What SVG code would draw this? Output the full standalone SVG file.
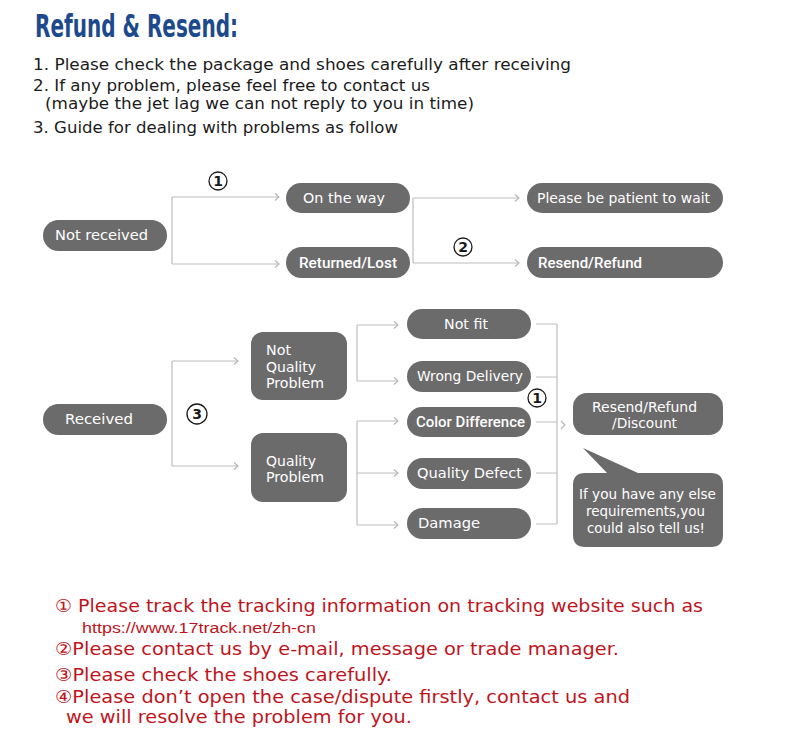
<svg xmlns="http://www.w3.org/2000/svg" width="800" height="734" viewBox="0 0 800 734">
<defs>
<marker id="chev" markerUnits="userSpaceOnUse" markerWidth="10" markerHeight="10" refX="6" refY="5" orient="auto">
<path d="M2,1.5 L6,5 L2,8.5" fill="none" stroke="#b3b3b3" stroke-width="1.1"/>
</marker>
<style>
.bg{fill:#ffffff}
.title{font-family:"Liberation Sans Narrow","DejaVu Sans Condensed","DejaVu Sans",sans-serif;font-weight:bold;font-size:32px;fill:#1d4a8c}
.body{font-family:"DejaVu Sans","Noto Sans",sans-serif;font-size:16.5px;fill:#1b1b1b}
.box{fill:#6c6b6c}
.nt{font-family:"DejaVu Sans","Noto Sans",sans-serif;font-size:14px;fill:#ffffff}
.nb{font-family:Roboto,"Liberation Sans",sans-serif;font-weight:500;font-size:15px;fill:#ffffff}
.ln{fill:none;stroke:#bdbdbd;stroke-width:1.2}
.arr{fill:none;stroke:#bdbdbd;stroke-width:1.2;marker-end:url(#chev)}
.num{fill:none;stroke:#1a1a1a;stroke-width:1.3}
.numt{font-family:"DejaVu Sans",sans-serif;font-size:14px;font-weight:bold;fill:#1a1a1a;text-anchor:middle}
.foot{font-family:"DejaVu Sans","Noto Sans","Noto Sans CJK SC",sans-serif;font-size:18px;fill:#c0141c}
.url{font-family:"Liberation Sans",Arial,sans-serif;font-size:15.5px;fill:#c0141c}
</style>
</defs>
<rect class="bg" x="0" y="0" width="800" height="734"/>

<g id="header">
<text class="title" x="35" y="37" textLength="203" lengthAdjust="spacingAndGlyphs">Refund &amp; Resend:</text>
<text class="body" x="33" y="70" textLength="538" lengthAdjust="spacingAndGlyphs">1. Please check the package and shoes carefully after receiving</text>
<text class="body" x="33" y="91" textLength="397" lengthAdjust="spacingAndGlyphs">2. If any problem, please feel free to contact us</text>
<text class="body" x="45" y="109" style="font-size:15.5px" textLength="429" lengthAdjust="spacingAndGlyphs">(maybe the jet lag we can not reply to you in time)</text>
<text class="body" x="33" y="133" textLength="365" lengthAdjust="spacingAndGlyphs">3. Guide for dealing with problems as follow</text>
</g>

<g id="connectors">
<path class="ln" d="M172,197 V264"/>
<path class="arr" d="M172,197 H279"/>
<path class="arr" d="M172,264 H279"/>
<path class="ln" d="M413,198 V263"/>
<path class="arr" d="M413,198 H519"/>
<path class="arr" d="M413,263 H519"/>
<path class="ln" d="M172,361 V466"/>
<path class="arr" d="M172,361 H238"/>
<path class="arr" d="M172,466 H238"/>
<path class="ln" d="M357,325 V381"/>
<path class="arr" d="M357,325 H398"/>
<path class="arr" d="M357,381 H398"/>
<path class="ln" d="M357,421 V525"/>
<path class="arr" d="M357,421 H398"/>
<path class="arr" d="M357,473 H398"/>
<path class="arr" d="M357,525 H398"/>
<path class="ln" d="M536,324 H557 M536,377 H557 M536,422 H557 M536,473 H557 M536,524 H557 M557,324 V524"/>
<path d="M561,421 L565,425 L561,429" fill="none" stroke="#b3b3b3" stroke-width="1.1"/>
</g>

<g id="step1a">
<circle class="num" cx="218" cy="181" r="9"/>
<text class="numt" x="218" y="186">1</text>
</g>
<g id="step2">
<circle class="num" cx="463" cy="247" r="9"/>
<text class="numt" x="463" y="252">2</text>
</g>
<g id="step3">
<circle class="num" cx="197" cy="414" r="10"/>
<text class="numt" x="197" y="419">3</text>
</g>
<g id="step1b">
<circle class="num" cx="537" cy="398" r="9"/>
<text class="numt" x="537" y="403">1</text>
</g>

<g id="not-received">
<rect class="box" x="43" y="220" width="124" height="31" rx="15.5"/>
<text class="nt" x="55" y="240" textLength="93" lengthAdjust="spacingAndGlyphs">Not received</text>
</g>
<g id="on-the-way">
<rect class="box" x="286" y="183" width="124" height="30" rx="15"/>
<text class="nt" x="303" y="203" textLength="82" lengthAdjust="spacingAndGlyphs">On the way</text>
</g>
<g id="returned-lost">
<rect class="box" x="286" y="247" width="124" height="31" rx="15.5"/>
<text class="nb" x="299" y="268" textLength="98" lengthAdjust="spacingAndGlyphs">Returned/Lost</text>
</g>
<g id="be-patient">
<rect class="box" x="527" y="183" width="196" height="30" rx="15"/>
<text class="nt" x="537" y="203" textLength="173" lengthAdjust="spacingAndGlyphs">Please be patient to wait</text>
</g>
<g id="resend-refund">
<rect class="box" x="527" y="247" width="196" height="31" rx="15.5"/>
<text class="nb" x="538" y="268" textLength="104" lengthAdjust="spacingAndGlyphs">Resend/Refund</text>
</g>

<g id="received">
<rect class="box" x="43" y="404" width="124" height="31" rx="15.5"/>
<text class="nt" x="65" y="424" textLength="68" lengthAdjust="spacingAndGlyphs">Received</text>
</g>
<g id="not-quality-problem">
<rect class="box" x="251" y="332" width="96" height="68" rx="12"/>
<text class="nt" x="266" y="355" textLength="25" lengthAdjust="spacingAndGlyphs">Not</text>
<text class="nt" x="266" y="372" textLength="50" lengthAdjust="spacingAndGlyphs">Quality</text>
<text class="nt" x="266" y="388" textLength="58" lengthAdjust="spacingAndGlyphs">Problem</text>
</g>
<g id="quality-problem">
<rect class="box" x="251" y="433" width="96" height="69" rx="12"/>
<text class="nt" x="266" y="466" textLength="50" lengthAdjust="spacingAndGlyphs">Quality</text>
<text class="nt" x="266" y="482" textLength="58" lengthAdjust="spacingAndGlyphs">Problem</text>
</g>
<g id="not-fit">
<rect class="box" x="407" y="309" width="124" height="30" rx="15"/>
<text class="nt" x="444" y="329" textLength="44" lengthAdjust="spacingAndGlyphs">Not fit</text>
</g>
<g id="wrong-delivery">
<rect class="box" x="407" y="361" width="124" height="31" rx="15.5"/>
<text class="nt" x="417" y="381" textLength="106" lengthAdjust="spacingAndGlyphs">Wrong Delivery</text>
</g>
<g id="color-difference">
<rect class="box" x="407" y="407" width="124" height="30" rx="15"/>
<text class="nb" x="416" y="427" textLength="109" lengthAdjust="spacingAndGlyphs">Color Difference</text>
</g>
<g id="quality-defect">
<rect class="box" x="407" y="458" width="124" height="31" rx="15.5"/>
<text class="nt" x="417" y="478" textLength="105" lengthAdjust="spacingAndGlyphs">Quality Defect</text>
</g>
<g id="damage">
<rect class="box" x="407" y="508" width="124" height="31" rx="15.5"/>
<text class="nt" x="418" y="528" textLength="62" lengthAdjust="spacingAndGlyphs">Damage</text>
</g>
<g id="resend-refund-discount">
<rect class="box" x="573" y="393" width="150" height="42" rx="14"/>
<text class="nt" x="592" y="412" textLength="105" lengthAdjust="spacingAndGlyphs">Resend/Refund</text>
<text class="nt" x="612" y="428" textLength="65" lengthAdjust="spacingAndGlyphs">/Discount</text>
</g>
<g id="bubble">
<path class="box" d="M585,473 L607,473 L583,448 L638,473 L711,473 Q723,473 723,485 L723,535 Q723,547 711,547 L585,547 Q573,547 573,535 L573,485 Q573,473 585,473 Z"/>
<text class="nt" x="579" y="499" textLength="137" lengthAdjust="spacingAndGlyphs">If you have any else</text>
<text class="nt" x="586" y="516" textLength="119" lengthAdjust="spacingAndGlyphs">requirements,you</text>
<text class="nt" x="587" y="533" textLength="118" lengthAdjust="spacingAndGlyphs">could also tell us!</text>
</g>

<g id="footer">
<text class="foot" x="55" y="612" textLength="648" lengthAdjust="spacingAndGlyphs">① Please track the tracking information on tracking website such as</text>
<text class="url" x="82" y="633" textLength="234" lengthAdjust="spacingAndGlyphs">https://www.17track.net/zh-cn</text>
<text class="foot" x="55" y="655" textLength="564" lengthAdjust="spacingAndGlyphs">②Please contact us by e-mail, message or trade manager.</text>
<text class="foot" x="55" y="681" textLength="337" lengthAdjust="spacingAndGlyphs">③Please check the shoes carefully.</text>
<text class="foot" x="55" y="703" textLength="575" lengthAdjust="spacingAndGlyphs">④Please don’t open the case/dispute firstly, contact us and</text>
<text class="foot" x="66" y="723" style="font-size:17px" textLength="346" lengthAdjust="spacingAndGlyphs">we will resolve the problem for you.</text>
</g>
</svg>
